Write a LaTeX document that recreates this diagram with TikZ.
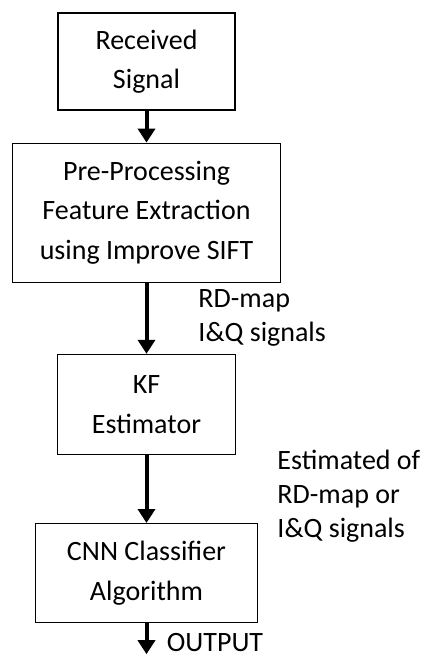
\documentclass[tikz,border=0pt]{standalone}
\usepackage{fontspec}
\setmainfont{Carlito}
\usetikzlibrary{arrows.meta, positioning}

\begin{document}
\begin{tikzpicture}[auto, node distance=16pt,
 block/.style={rectangle, draw, line width=0.6pt, align=center,
   font=\fontsize{14}{19.75}\selectfont, inner sep=2pt},
 flow/.style={line width=2pt, -{Triangle[width=8.5pt,length=7pt]}},
 lbl/.style={align=left, inner sep=0pt, font=\fontsize{14}{17}\selectfont}]
  \useasboundingbox (0,0) rectangle (211pt,-327.5pt);
  \node[block, minimum width=88.5pt, minimum height=48.5pt] (recv) at (73.25pt,-30.75pt) {Received\\Signal};
  \node[block, minimum width=134pt, minimum height=69.5pt] (pre) [below=16pt of recv] {Pre-Processing\\Feature Extraction\\using Improve SIFT};
  \node[block, minimum width=89pt, minimum height=50pt] (kf) [below=35.5pt of pre] {KF\\Estimator};
  \node[block, minimum width=111pt, minimum height=49.5pt] (cnn) [below=34pt of kf] {CNN Classifier\\Algorithm};
  \coordinate[below=15.5pt of cnn] (out);

  \draw[flow] (recv) -- (pre);
  \draw[flow] (pre) -- node[lbl, right=25pt] (rdlbl) {RD-map\\I\&Q signals} (kf);
  \draw[flow] (kf) -- node[lbl, right=64.5pt, yshift=-3.5pt] (estlbl) {Estimated of\\RD-map or\\I\&Q signals} (cnn);
  \draw[flow] (cnn) -- (out);
  \node[inner sep=0pt, text depth=0pt, font=\fontsize{14}{17}\selectfont, anchor=base west] (outlbl) at ([xshift=10pt, yshift=1.5pt]out) {OUTPUT};
\end{tikzpicture}
\end{document}
